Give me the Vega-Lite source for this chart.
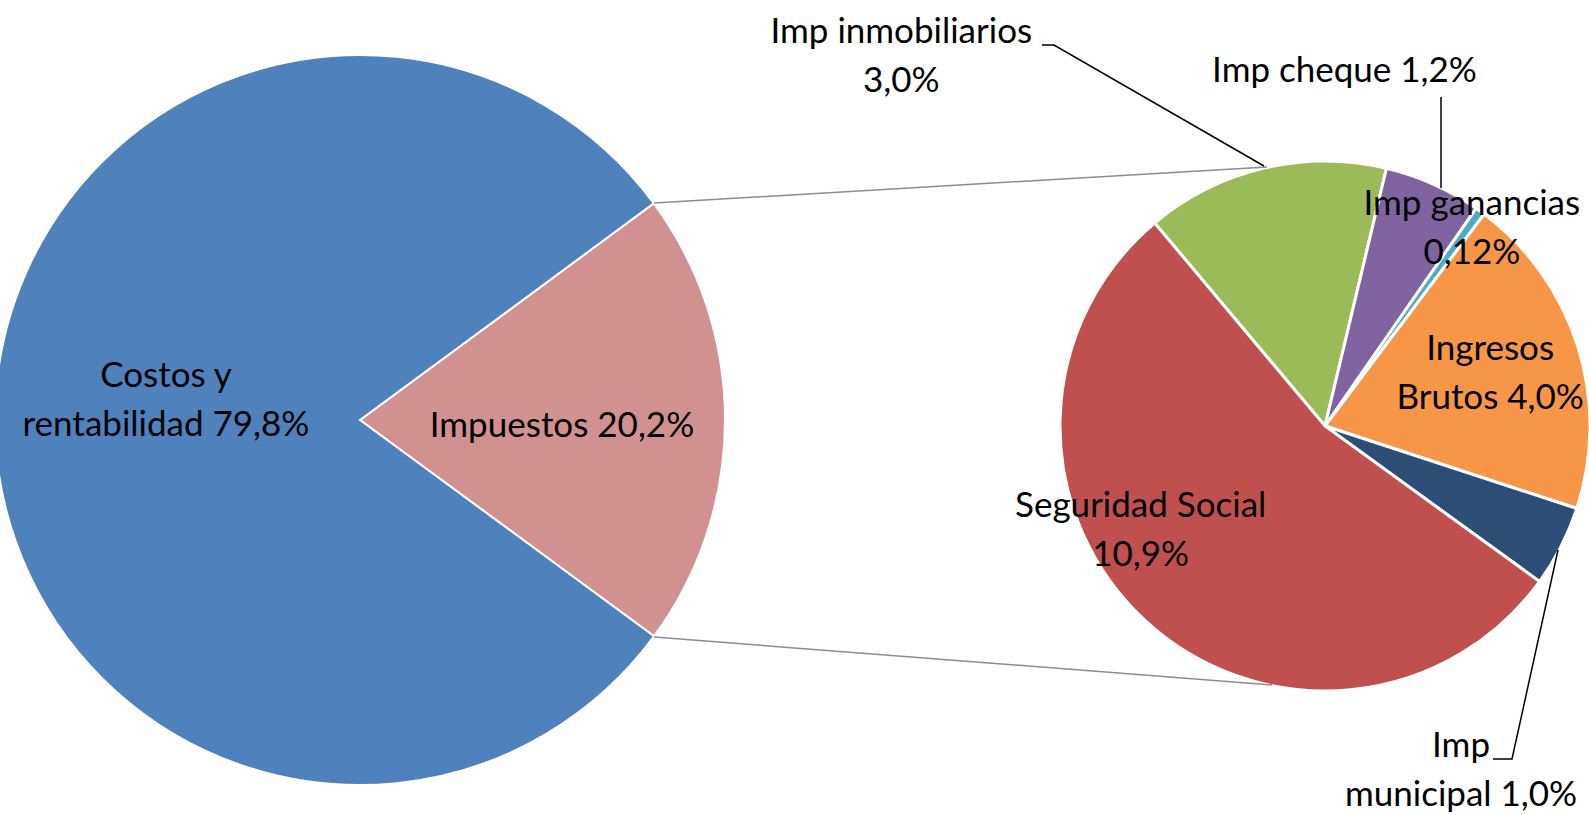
{
  "$schema": "https://vega.github.io/schema/vega-lite/v6.json",
  "width": 1589,
  "height": 815,
  "padding": 0,
  "autosize": {"type": "none"},
  "background": "white",
  "config": {"view": {"stroke": null}, "text": {"font": "Lato", "fontSize": 35, "color": "#000000"}},
  "datasets": {
    "left": [
      {"cat": "Impuestos", "value": 20.2, "idx": 1, "label": "Impuestos 20,2%"},
      {"cat": "Costos y rentabilidad", "value": 79.8, "idx": 2, "label": "Costos y\nrentabilidad 79,8%"}
    ],
    "right": [
      {"cat": "Imp inmobiliarios", "value": 3.0, "idx": 1, "label": "Imp inmobiliarios\n3,0%"},
      {"cat": "Imp cheque", "value": 1.2, "idx": 2, "label": "Imp cheque 1,2%"},
      {"cat": "Imp ganancias", "value": 0.12, "idx": 3, "label": "Imp ganancias\n0,12%"},
      {"cat": "Ingresos Brutos", "value": 4.0, "idx": 4, "label": "Ingresos\nBrutos 4,0%"},
      {"cat": "Imp municipal", "value": 1.0, "idx": 5, "label": "Imp\nmunicipal 1,0%"},
      {"cat": "Seguridad Social", "value": 10.9, "idx": 6, "label": "Seguridad Social\n10,9%"}
    ],
    "guides": [
      {"kind": "connector", "seg": "c1", "pt": 1, "x": 654, "y": 203},
      {"kind": "connector", "seg": "c1", "pt": 2, "x": 1267, "y": 167},
      {"kind": "connector", "seg": "c2", "pt": 1, "x": 654, "y": 637},
      {"kind": "connector", "seg": "c2", "pt": 2, "x": 1272, "y": 685},
      {"kind": "leader", "seg": "l1", "pt": 1, "x": 1042, "y": 45},
      {"kind": "leader", "seg": "l1", "pt": 2, "x": 1054, "y": 45},
      {"kind": "leader", "seg": "l1", "pt": 3, "x": 1264, "y": 166},
      {"kind": "leader", "seg": "l2", "pt": 1, "x": 1441, "y": 97},
      {"kind": "leader", "seg": "l2", "pt": 2, "x": 1441, "y": 188},
      {"kind": "leader", "seg": "l3", "pt": 1, "x": 1493, "y": 759},
      {"kind": "leader", "seg": "l3", "pt": 2, "x": 1512, "y": 759},
      {"kind": "leader", "seg": "l3", "pt": 3, "x": 1558, "y": 550}
    ]
  },
  "layer": [
    {
      "data": {"name": "left"},
      "encoding": {
        "x": {"datum": 360, "type": "quantitative", "scale": {"domain": [0, 1589], "nice": false, "zero": false}, "axis": null},
        "y": {"datum": 420, "type": "quantitative", "scale": {"domain": [0, 815], "reverse": true, "nice": false, "zero": false}, "axis": null},
        "theta": {"field": "value", "type": "quantitative", "stack": true, "scale": {"range": [0.9355, 7.2187]}},
        "order": {"field": "idx", "type": "quantitative"}
      },
      "layer": [
        {
          "mark": {"type": "arc", "radius": 365, "stroke": "white", "strokeWidth": 2},
          "encoding": {
            "color": {"field": "cat", "type": "nominal", "legend": null,
              "scale": {"domain": ["Costos y rentabilidad", "Impuestos", "Seguridad Social", "Imp inmobiliarios", "Imp cheque", "Imp ganancias", "Ingresos Brutos", "Imp municipal"],
                        "range": ["#4F81BD", "#D19191", "#C0504D", "#9BBB59", "#8064A2", "#4BACC6", "#F79646", "#2C4D75"]}}
          }
        },
        {
          "mark": {"type": "text", "radius": 200, "dx": 2, "dy": 6, "lineBreak": "\n", "lineHeight": 49, "align": "center", "baseline": "middle"},
          "encoding": {"text": {"condition": {"test": "datum.cat === 'Impuestos'", "field": "label", "type": "nominal"}, "value": ""}}
        },
        {
          "mark": {"type": "text", "radius": 194, "dx": 0, "dy": -44, "lineBreak": "\n", "lineHeight": 49, "align": "center", "baseline": "middle"},
          "encoding": {"text": {"condition": {"test": "datum.cat === 'Costos y rentabilidad'", "field": "label", "type": "nominal"}, "value": ""}}
        }
      ]
    },
    {
      "data": {"name": "right"},
      "encoding": {
        "x": {"datum": 1325, "type": "quantitative", "scale": {"domain": [0, 1589], "nice": false, "zero": false}, "axis": null},
        "y": {"datum": 426, "type": "quantitative", "scale": {"domain": [0, 815], "reverse": true, "nice": false, "zero": false}, "axis": null},
        "theta": {"field": "value", "type": "quantitative", "stack": true, "scale": {"range": [-0.6981, 5.5851]}},
        "order": {"field": "idx", "type": "quantitative"}
      },
      "layer": [
        {
          "mark": {"type": "arc", "radius": 265, "stroke": "white", "strokeWidth": 3},
          "encoding": {
            "color": {"field": "cat", "type": "nominal", "legend": null,
              "scale": {"domain": ["Costos y rentabilidad", "Impuestos", "Seguridad Social", "Imp inmobiliarios", "Imp cheque", "Imp ganancias", "Ingresos Brutos", "Imp municipal"],
                        "range": ["#4F81BD", "#D19191", "#C0504D", "#9BBB59", "#8064A2", "#4BACC6", "#F79646", "#2C4D75"]}}
          }
        },
        {
          "mark": {"type": "text", "radius": 290, "dx": -357, "dy": -112, "lineBreak": "\n", "lineHeight": 49, "align": "center", "baseline": "middle"},
          "encoding": {"text": {"condition": {"test": "datum.cat === 'Imp inmobiliarios'", "field": "label", "type": "nominal"}, "value": ""}}
        },
        {
          "mark": {"type": "text", "radius": 300, "dx": -103, "dy": -81, "lineBreak": "\n", "lineHeight": 49, "align": "center", "baseline": "middle"},
          "encoding": {"text": {"condition": {"test": "datum.cat === 'Imp cheque'", "field": "label", "type": "nominal"}, "value": ""}}
        },
        {
          "mark": {"type": "text", "radius": 220, "dx": 18, "dy": -44, "lineBreak": "\n", "lineHeight": 49, "align": "center", "baseline": "middle"},
          "encoding": {"text": {"condition": {"test": "datum.cat === 'Imp ganancias'", "field": "label", "type": "nominal"}, "value": ""}}
        },
        {
          "mark": {"type": "text", "radius": 170, "dx": 3, "dy": -26, "lineBreak": "\n", "lineHeight": 49, "align": "center", "baseline": "middle"},
          "encoding": {"text": {"condition": {"test": "datum.cat === 'Ingresos Brutos'", "field": "label", "type": "nominal"}, "value": ""}}
        },
        {
          "mark": {"type": "text", "radius": 200, "dx": -48, "dy": -66, "lineBreak": "\n", "lineHeight": 49, "align": "center", "baseline": "middle"},
          "encoding": {"text": {"condition": {"test": "datum.cat === 'Seguridad Social'", "field": "label", "type": "nominal"}, "value": ""}}
        },
        {
          "mark": {"type": "text", "radius": 265, "dx": -100, "dy": 200, "lineBreak": "\n", "lineHeight": 49, "align": "center", "baseline": "middle"},
          "encoding": {"text": {"condition": {"test": "datum.cat === 'Imp municipal'", "field": "label", "type": "nominal"}, "value": ""}}
        }
      ]
    },
    {
      "data": {"name": "guides"},
      "transform": [{"filter": "datum.kind === 'connector'"}],
      "mark": {"type": "line", "color": "#8C8C8C", "strokeWidth": 1.5},
      "encoding": {
        "x": {"field": "x", "type": "quantitative", "scale": {"domain": [0, 1589], "nice": false, "zero": false}, "axis": null},
        "y": {"field": "y", "type": "quantitative", "scale": {"domain": [0, 815], "reverse": true, "nice": false, "zero": false}, "axis": null},
        "detail": {"field": "seg", "type": "nominal"},
        "order": {"field": "pt", "type": "quantitative"}
      }
    },
    {
      "data": {"name": "guides"},
      "transform": [{"filter": "datum.kind === 'leader'"}],
      "mark": {"type": "line", "color": "#000000", "strokeWidth": 1.5},
      "encoding": {
        "x": {"field": "x", "type": "quantitative", "scale": {"domain": [0, 1589], "nice": false, "zero": false}, "axis": null},
        "y": {"field": "y", "type": "quantitative", "scale": {"domain": [0, 815], "reverse": true, "nice": false, "zero": false}, "axis": null},
        "detail": {"field": "seg", "type": "nominal"},
        "order": {"field": "pt", "type": "quantitative"}
      }
    }
  ],
  "resolve": {"scale": {"theta": "independent"}}
}
